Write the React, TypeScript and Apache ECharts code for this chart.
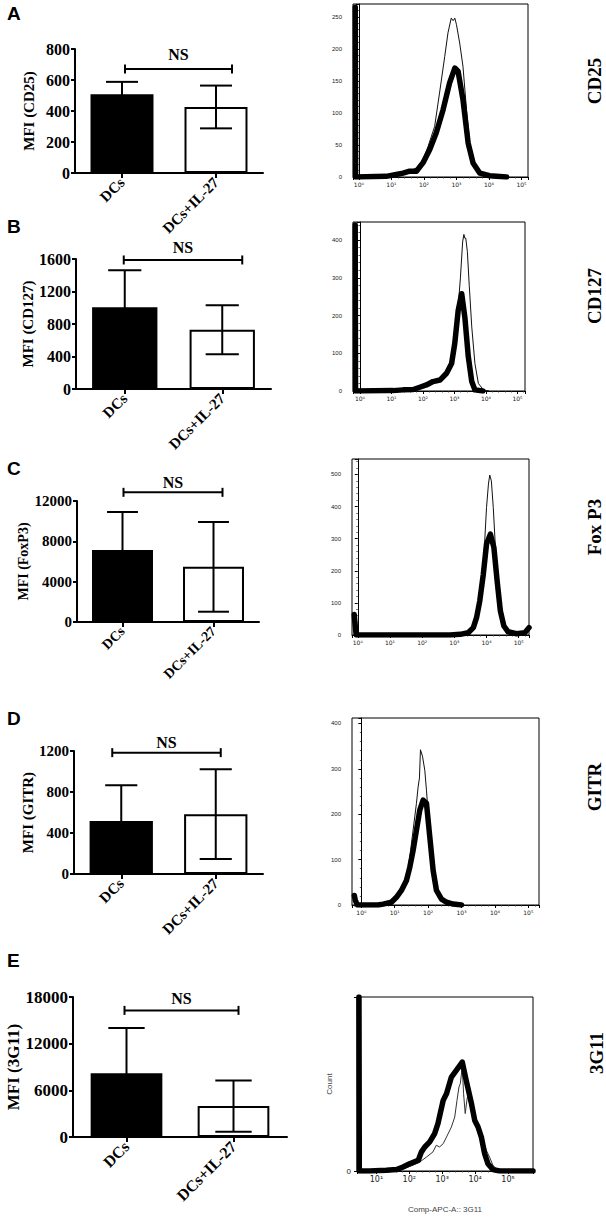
import React, { useEffect, useRef } from "react";
import * as echarts from "echarts";

// ---------- data ----------
const categories = ["DCs", "DCs+IL-27"];

const cd25Ticks = [0, 200, 400, 600, 800];
const cd25Mean = [508, 426];
const cd25Sd = [80, 138];

const cd127Ticks = [0, 400, 800, 1200, 1600];
const cd127Mean = [1005, 730];
const cd127Sd = [456, 302];

const foxp3Ticks = [0, 4000, 8000, 12000];
const foxp3Mean = [7130, 5470];
const foxp3Sd = [3780, 4450];

const gitrTicks = [0, 400, 800, 1200];
const gitrMean = [516, 584];
const gitrSd = [350, 437];

const g3g11Ticks = [0, 6000, 12000, 18000];
const g3g11Mean = [8190, 3970];
const g3g11Sd = [5820, 3300];

const nsLevels = [671, 1588, 12860, 1184, 16280];

// histograms: [log10 fluorescence, count]
const cd25Thin = [[0.1, 0], [0.84, 1], [1.36, 5], [1.77, 14], [1.97, 27], [2.13, 48], [2.33, 79], [2.48, 131], [2.64, 188], [2.74, 225], [2.84, 248], [2.9, 244], [2.95, 248], [3.0, 238], [3.1, 209], [3.2, 173], [3.31, 105], [3.41, 53], [3.51, 22], [3.72, 6], [4.02, 1], [4.4, 0]];
const cd25Thick = [[-0.11, 265], [-0.1, 0], [0.84, 1], [1.15, 4], [1.36, 6], [1.56, 9], [1.77, 9], [1.97, 22], [2.18, 43], [2.38, 69], [2.59, 105], [2.79, 147], [2.95, 170], [3.05, 165], [3.2, 121], [3.36, 53], [3.51, 22], [3.72, 6], [4.02, 2], [4.54, 0]];

const cd127Thin = [[1.05, 1], [1.37, 3], [1.69, 4], [1.9, 10], [2.11, 16], [2.32, 25], [2.54, 29], [2.75, 47], [2.91, 80], [3.01, 130], [3.12, 225], [3.19, 300], [3.26, 395], [3.3, 415], [3.33, 405], [3.36, 405], [3.41, 370], [3.47, 280], [3.55, 170], [3.65, 73], [3.76, 20], [3.92, 3], [4.1, 0]];
const cd127Thick = [[-0.15, 440], [-0.14, 0], [1.05, 1], [1.37, 3], [1.69, 4], [1.9, 10], [2.11, 16], [2.32, 25], [2.54, 29], [2.75, 47], [2.91, 73], [3.01, 126], [3.12, 214], [3.23, 258], [3.33, 196], [3.44, 91], [3.55, 25], [3.65, 3], [3.9, 0]];

const foxp3Thin = [[2.76, 0], [3.18, 2], [3.38, 7], [3.59, 23], [3.69, 54], [3.79, 116], [3.9, 210], [4.0, 397], [4.06, 470], [4.1, 498], [4.15, 480], [4.21, 397], [4.31, 210], [4.41, 85], [4.52, 33], [4.72, 12], [4.93, 7], [5.13, 4], [5.26, 10], [5.32, 22]];
const foxp3Thick = [[-0.11, 64], [-0.09, 40], [-0.05, 0], [2.87, 0], [3.18, 2], [3.43, 7], [3.59, 23], [3.69, 54], [3.79, 106], [3.9, 189], [4.0, 283], [4.12, 314], [4.23, 272], [4.33, 168], [4.43, 75], [4.54, 28], [4.67, 10], [4.93, 4], [5.19, 7], [5.32, 23]];

const gitrThin = [[0.55, 2], [0.85, 6], [1.05, 17], [1.2, 32], [1.35, 61], [1.45, 106], [1.55, 165], [1.65, 224], [1.7, 260], [1.74, 280], [1.77, 342], [1.83, 328], [1.9, 297], [1.95, 253], [2.05, 150], [2.15, 76], [2.25, 32], [2.4, 13], [2.55, 6], [2.75, 2], [3.0, 0]];
const gitrThick = [[-0.21, 21], [-0.18, 10], [-0.12, 0], [0.5, 0], [0.65, 2], [0.9, 6], [1.05, 17], [1.2, 32], [1.35, 54], [1.45, 83], [1.55, 120], [1.65, 165], [1.75, 209], [1.85, 231], [1.95, 224], [2.05, 150], [2.15, 76], [2.25, 32], [2.4, 13], [2.55, 6], [2.75, 2], [3.0, 0]];

const g3g11Thin = [[1.81, 1.3], [2.11, 3.3], [2.32, 5.2], [2.52, 8], [2.72, 11], [2.82, 14.8], [2.92, 13.8], [3.03, 15.7], [3.13, 19.5], [3.28, 25.3], [3.38, 31], [3.45, 40.6], [3.51, 48.3], [3.55, 50.2], [3.61, 59.8], [3.65, 44.4], [3.7, 33], [3.75, 40.6], [3.82, 48.3], [3.89, 38.7], [3.99, 27.2], [4.09, 23.4], [4.24, 17.6], [4.34, 11.9], [4.44, 8], [4.54, 3.3], [4.7, 0.4]];
const g3g11Thick = [[0.47, 100], [0.48, 0], [0.8, 0], [1.3, 0.4], [1.61, 0.8], [1.81, 2.3], [2.01, 4.2], [2.27, 6.1], [2.37, 11], [2.47, 13.8], [2.62, 16.7], [2.77, 21.5], [2.87, 27.2], [3.03, 40.6], [3.13, 44.4], [3.28, 54], [3.61, 62.6], [3.73, 52], [3.89, 38.7], [3.99, 29], [4.09, 25.3], [4.19, 19.5], [4.29, 10], [4.39, 4.2], [4.54, 0.8], [4.75, 0], [5.76, 0]];

// ---------- layout ----------
const serif = "'Liberation Serif', 'Times New Roman', serif";
const sans = "'Liberation Sans', Arial, sans-serif";
const sup = ["⁰", "¹", "²", "³", "⁴", "⁵"];

const barPanels = [
  { letter: "A", letterTop: 4, ticks: cd25Ticks, mean: cd25Mean, sd: cd25Sd, ns: nsLevels[0], yName: "MFI (CD25)", left: 75, right: 263, top: 49, bottom: 173, tickFont: 16, nameFont: 15, nameGap: 39, catFont: 15, bracketDx: [3, 16], nsDy: 14 },
  { letter: "B", letterTop: 217, ticks: cd127Ticks, mean: cd127Mean, sd: cd127Sd, ns: nsLevels[1], yName: "MFI (CD127)", left: 76, right: 271, top: 259, bottom: 389, tickFont: 16, nameFont: 15, nameGap: 40, catFont: 15, bracketDx: [-1, 20], nsDy: 12 },
  { letter: "C", letterTop: 459, ticks: foxp3Ticks, mean: foxp3Mean, sd: foxp3Sd, ns: nsLevels[2], yName: "MFI (FoxP3)", left: 77, right: 259, top: 501, bottom: 622, tickFont: 15, nameFont: 14, nameGap: 45, catFont: 14, bracketDx: [1, 9], nsDy: 10 },
  { letter: "D", letterTop: 709, ticks: gitrTicks, mean: gitrMean, sd: gitrSd, ns: nsLevels[3], yName: "MFI (GITR)", left: 74, right: 263, top: 751, bottom: 874, tickFont: 15, nameFont: 15, nameGap: 38, catFont: 15, bracketDx: [-9, 5], nsDy: 10 },
  { letter: "E", letterTop: 951, ticks: g3g11Ticks, mean: g3g11Mean, sd: g3g11Sd, ns: nsLevels[4], yName: "MFI (3G11)", left: 73, right: 287, top: 997, bottom: 1137, tickFont: 17, nameFont: 17, nameGap: 51, catFont: 16, bracketDx: [-2, 5], nsDy: 12 },
];

const histPanels = [
  { label: "CD25", lx: 594, ly: 81, thin: cd25Thin, thick: cd25Thick, left: 353, right: 528, top: 4, bottom: 177, xMin: -0.18, xMax: 5.2, yMax: 270, yInt: 50, small: true },
  { label: "CD127", lx: 594, ly: 296, thin: cd127Thin, thick: cd127Thick, left: 353, right: 525, top: 222, bottom: 391, xMin: -0.22, xMax: 5.24, yMax: 448, yInt: 100, small: true },
  { label: "Fox P3", lx: 594, ly: 527, thin: foxp3Thin, thick: foxp3Thick, left: 352, right: 529, top: 459, bottom: 635, xMin: -0.18, xMax: 5.32, yMax: 548, yInt: 100, small: true },
  { label: "GITR", lx: 594, ly: 787, thin: gitrThin, thick: gitrThick, left: 352, right: 539, top: 718, bottom: 905, xMin: -0.28, xMax: 5.32, yMax: 412, yInt: 100, small: true },
  { label: "3G11", lx: 596, ly: 1053, thin: g3g11Thin, thick: g3g11Thick, left: 357, right: 533, top: 997, bottom: 1171, xMin: 0.41, xMax: 5.76, yMax: 100, yInt: 100, small: false },
];

function buildOption() {
  const grid: any[] = [];
  const xAxis: any[] = [];
  const yAxis: any[] = [];
  const series: any[] = [];
  const graphic: any[] = [];
  const black = "#000";

  barPanels.forEach((p, i) => {
    const max = p.ticks[p.ticks.length - 1];
    const interval = p.ticks[1] - p.ticks[0];
    grid.push({ left: p.left, top: p.top, width: p.right - p.left, height: p.bottom - p.top, containLabel: false });
    xAxis.push({
      gridIndex: i, type: "category", data: categories, boundaryGap: true,
      axisLine: { show: true, lineStyle: { color: black, width: 2 } },
      axisTick: { show: true, alignWithLabel: true, length: 5, lineStyle: { color: black, width: 2 } },
      axisLabel: { rotate: 45, margin: 7, color: black, fontFamily: serif, fontWeight: "bold", fontSize: p.catFont },
      splitLine: { show: false },
    });
    yAxis.push({
      gridIndex: i, type: "value", min: 0, max, interval,
      axisLine: { show: true, lineStyle: { color: black, width: 2 } },
      axisTick: { show: true, length: 4, lineStyle: { color: black, width: 2 } },
      axisLabel: { margin: 5, color: black, fontFamily: serif, fontWeight: "bold", fontSize: p.tickFont, formatter: (v: number) => String(v) },
      splitLine: { show: false },
      name: p.yName, nameLocation: "middle", nameRotate: 90, nameGap: p.nameGap,
      nameTextStyle: { color: black, fontFamily: serif, fontWeight: "bold", fontSize: p.nameFont },
    });
    series.push({
      type: "bar", xAxisIndex: i, yAxisIndex: i, barWidth: "67%", z: 2,
      data: p.mean.map((v, j) => ({ value: v, itemStyle: { color: j === 0 ? black : "#fff", borderColor: black, borderWidth: 2 } })),
    });
    series.push({
      type: "custom", xAxisIndex: i, yAxisIndex: i, z: 3, clip: false,
      data: p.mean.map((v, j) => [j, v, p.sd[j]]),
      renderItem: (params: any, api: any) => {
        const idx = api.value(0), m = api.value(1), s = api.value(2);
        const hi = api.coord([idx, m + s]);
        const lo = api.coord([idx, m - s]);
        const hw = api.size([1, 0])[0] * 0.17;
        const style = { stroke: black, lineWidth: 2, fill: null };
        return {
          type: "group",
          children: [
            { type: "line", shape: { x1: hi[0], y1: hi[1], x2: lo[0], y2: lo[1] }, style },
            { type: "line", shape: { x1: hi[0] - hw, y1: hi[1], x2: hi[0] + hw, y2: hi[1] }, style },
            { type: "line", shape: { x1: lo[0] - hw, y1: lo[1], x2: lo[0] + hw, y2: lo[1] }, style },
          ],
        };
      },
    });
    series.push({
      type: "custom", xAxisIndex: i, yAxisIndex: i, z: 3, clip: false,
      data: [[0, p.ns]],
      renderItem: (params: any, api: any) => {
        const lvl = api.value(1);
        const a = api.coord([0, lvl]);
        const b = api.coord([1, lvl]);
        const x1 = a[0] + p.bracketDx[0];
        const x2 = b[0] + p.bracketDx[1];
        const y = a[1];
        const style = { stroke: black, lineWidth: 2, fill: null };
        return {
          type: "group",
          children: [
            { type: "line", shape: { x1, y1: y, x2, y2: y }, style },
            { type: "line", shape: { x1, y1: y - 4.5, x2: x1, y2: y + 4.5 }, style },
            { type: "line", shape: { x1: x2, y1: y - 4.5, x2, y2: y + 4.5 }, style },
            { type: "text", style: { text: "NS", x: (x1 + x2) / 2, y: y - p.nsDy, align: "center", verticalAlign: "middle", fontFamily: serif, fontWeight: "bold", fontSize: 16, fill: black } },
          ],
        };
      },
    });
    graphic.push({ type: "text", left: 7, top: p.letterTop, style: { text: p.letter, fontFamily: sans, fontWeight: "bold", fontSize: 19, fill: black } });
  });

  histPanels.forEach((h, k) => {
    const gi = barPanels.length + k;
    const lblSize = h.small ? 6 : 8;
    grid.push({ left: h.left, top: h.top, width: h.right - h.left, height: h.bottom - h.top, show: true, borderColor: black, borderWidth: 1, backgroundColor: "transparent" });
    xAxis.push({
      gridIndex: gi, type: "value", min: h.xMin, max: h.xMax, splitNumber: 5,
      axisLine: { show: true, onZero: false, lineStyle: { color: black, width: 1 } },
      axisTick: { show: true, length: 3, lineStyle: { color: black, width: 1 } },
      minorTick: { show: true, splitNumber: 5, length: 1.5, lineStyle: { color: "#333", width: 0.8 } },
      splitLine: { show: false },
      axisLabel: {
        margin: 4, color: "#222", fontFamily: "'DejaVu Sans', sans-serif", fontSize: lblSize,
        formatter: (v: number) => (Math.abs(v - Math.round(v)) < 1e-6 && Math.round(v) >= 0 ? "10" + sup[Math.round(v)] : ""),
      },
      ...(h.small ? {} : { name: "Comp-APC-A:: 3G11", nameLocation: "middle", nameGap: 34, nameTextStyle: { color: "#444", fontFamily: sans, fontSize: 8 } }),
    });
    yAxis.push({
      gridIndex: gi, type: "value", min: 0, max: h.yMax, interval: h.yInt,
      axisLine: { show: true, lineStyle: { color: black, width: 1 } },
      axisTick: { show: true, length: 3, lineStyle: { color: black, width: 1 } },
      minorTick: { show: h.small, splitNumber: 5, length: 1.5, lineStyle: { color: "#333", width: 0.8 } },
      splitLine: { show: false },
      axisLabel: {
        margin: h.small ? 11 : 6, color: "#222", fontFamily: sans, fontSize: lblSize,
        formatter: (v: number) => (h.small ? (v % h.yInt === 0 ? String(v) : "") : v === 0 ? "0" : ""),
      },
      ...(h.small ? {} : { name: "Count", nameLocation: "middle", nameRotate: 90, nameGap: 24, nameTextStyle: { color: "#444", fontFamily: sans, fontSize: 8 } }),
    });
    series.push({
      type: "line", xAxisIndex: gi, yAxisIndex: gi, data: h.thin, showSymbol: false, z: 2,
      lineStyle: { color: h.small ? "#111" : "#333", width: 1 },
    });
    series.push({
      type: "line", xAxisIndex: gi, yAxisIndex: gi, data: h.thick, showSymbol: false, z: 3,
      lineStyle: { color: black, width: 5.5, join: "round", cap: "round" },
    });
    graphic.push({
      type: "text", x: h.lx, y: h.ly, rotation: Math.PI / 2,
      style: { text: h.label, fontFamily: serif, fontWeight: "bold", fontSize: 19, fill: black, align: "center", verticalAlign: "middle" },
    });
  });

  return { animation: false, backgroundColor: "#fff", grid, xAxis, yAxis, series, graphic };
}

export default function App() {
  const ref = useRef<HTMLDivElement>(null);
  useEffect(() => {
    if (!ref.current) return;
    const chart = echarts.init(ref.current, undefined, { renderer: "svg" });
    chart.setOption(buildOption() as any);
    return () => chart.dispose();
  }, []);
  return <div ref={ref} style={{ position: "absolute", left: 0, top: 0, width: 606, height: 1221, background: "#fff" }} />;
}
